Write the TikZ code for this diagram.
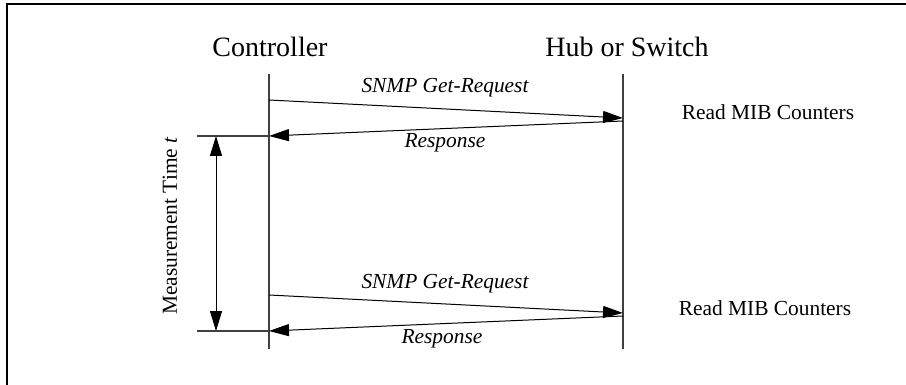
\documentclass[tikz,border=0pt]{standalone}
\usepackage{fontspec}
\setmainfont{Liberation Serif}
\usetikzlibrary{arrows.meta}
\begin{document}
\begin{tikzpicture}[x=0.5pt,y=-0.5pt,
  life/.style={draw=black!75,line width=0.6pt},
  msg/.style={draw=black,line width=0.5pt,-{Triangle[length=10pt,width=6pt]}},
  tick/.style={draw=black!75,line width=0.7pt},
  head/.style={font=\fontsize{14}{16}\selectfont,inner sep=0pt},
  lbl/.style={font=\fontsize{10.7}{12}\selectfont\itshape,inner sep=0pt},
  note/.style={font=\fontsize{10.7}{12}\selectfont,inner sep=0pt}]
\useasboundingbox (0,0) rectangle (906,385);
\draw[line width=0.9pt] (7,385) -- (7,4) -- (906,4);
% headers
\node[head] (ctl) at (270,47) {Controller};
\node[head] (hub) at (627,47) {Hub or Switch};
% lifelines
\coordinate (c0) at (269,74); \coordinate (c1) at (269,349);
\coordinate (h0) at (623,74); \coordinate (h1) at (623,349);
\draw[life] (c0) -- (c1);
\draw[life] (h0) -- (h1);
% first exchange
\coordinate (r1s) at (269,100); \coordinate (r1e) at (623,118);
\coordinate (p1s) at (623,121); \coordinate (p1e) at (269,136);
\draw[msg] (r1s) -- (r1e);
\draw[msg] (p1s) -- (p1e);
\node[lbl] (q1) at (445,88) {SNMP Get-Request};
\node[lbl] (a1) at (445,143) {Response};
\node[note] (m1) at (768,112) {Read MIB Counters};
% second exchange
\coordinate (r2s) at (269,295); \coordinate (r2e) at (623,313);
\coordinate (p2s) at (623,316); \coordinate (p2e) at (269,331);
\draw[msg] (r2s) -- (r2e);
\draw[msg] (p2s) -- (p2e);
\node[lbl] (q2) at (445,284) {SNMP Get-Request};
\node[lbl] (a2) at (442,339) {Response};
\node[note] (m2) at (765,308) {Read MIB Counters};
% measurement time
\coordinate (t0) at (197,136); \coordinate (t1) at (197,331);
\draw[tick] (t0) -- (p1e);
\draw[tick] (t1) -- (p2e);
\coordinate (d0) at (216,136); \coordinate (d1) at (216,331);
\draw[line width=0.5pt,{Triangle[length=10pt,width=6pt]}-{Triangle[length=10pt,width=6pt]}] (d0) -- (d1);
\node[note,rotate=90] (mt) at (170,226) {Measurement Time \textit{t}};
\end{tikzpicture}
\end{document}
